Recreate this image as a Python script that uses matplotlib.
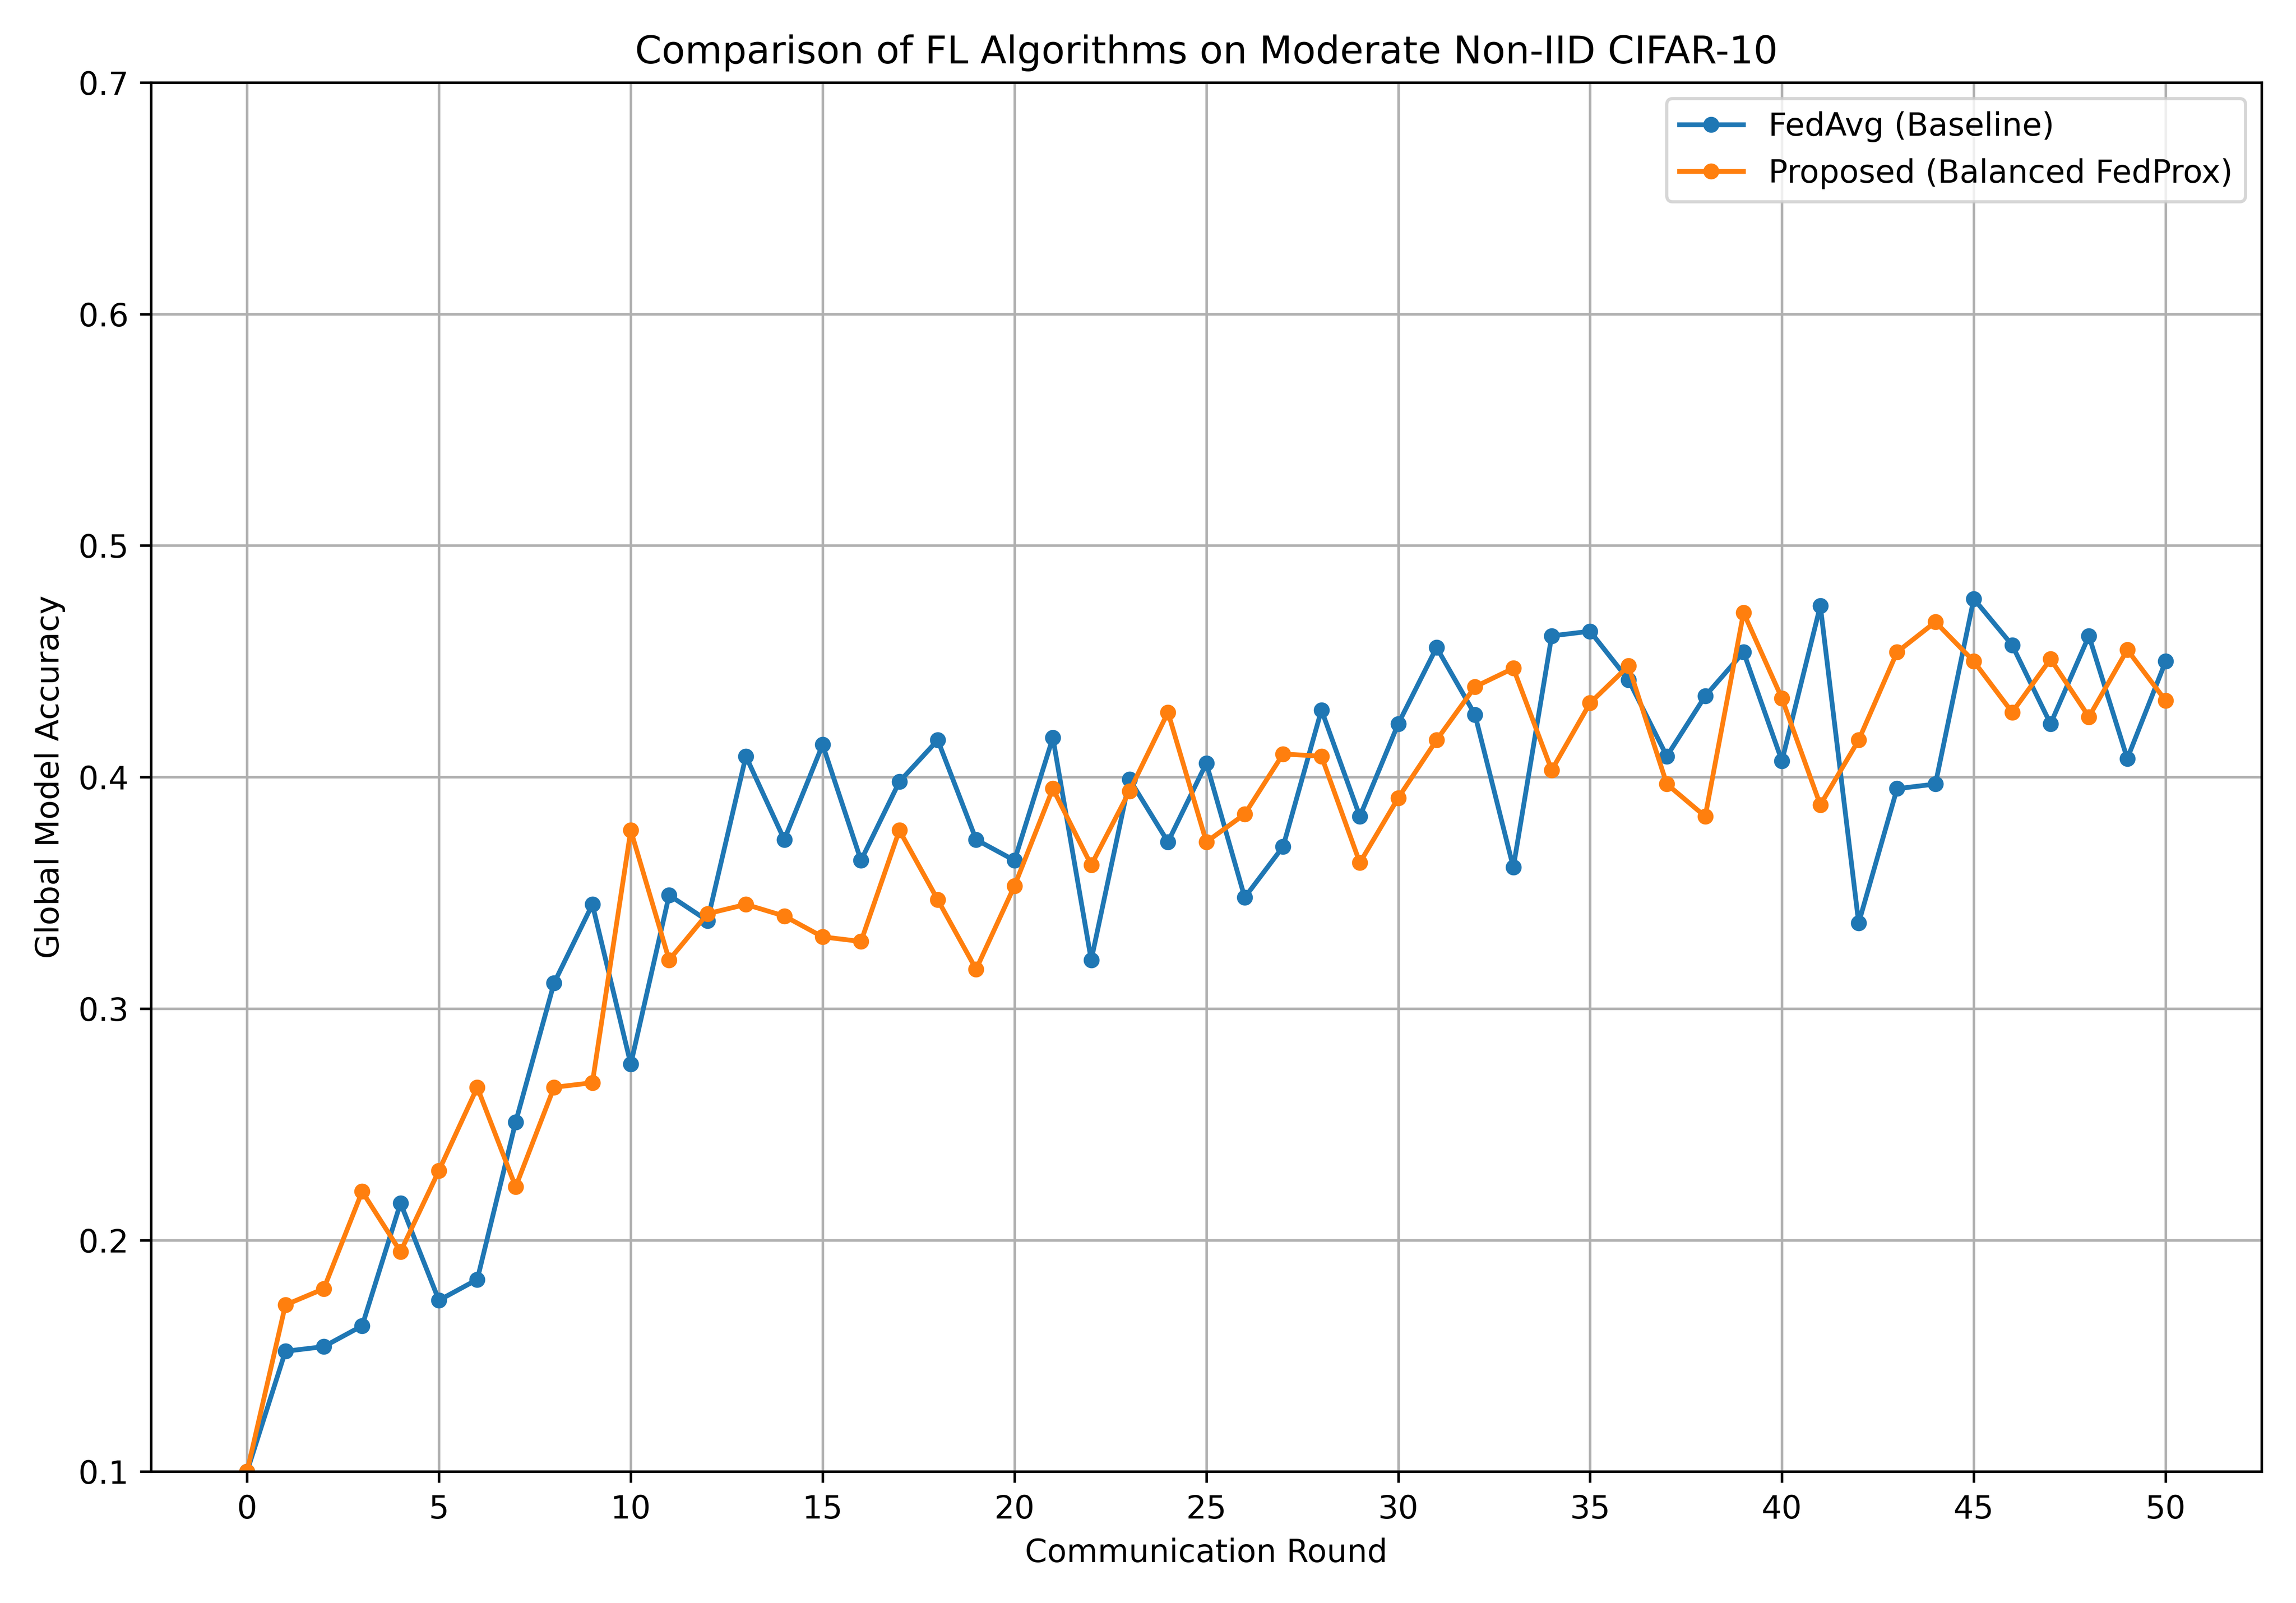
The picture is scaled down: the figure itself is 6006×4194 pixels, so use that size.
import matplotlib
matplotlib.use("Agg")
import matplotlib.pyplot as plt

rounds = list(range(51))
fedavg = [0.100,0.152,0.154,0.163,0.216,0.174,0.183,0.251,0.311,0.345,0.276,0.349,0.338,0.409,0.373,0.414,0.364,0.398,0.416,0.373,0.364,0.417,0.321,0.399,0.372,0.406,0.348,0.370,0.429,0.383,0.423,0.456,0.427,0.361,0.461,0.463,0.442,0.409,0.435,0.454,0.407,0.474,0.337,0.395,0.397,0.477,0.457,0.423,0.461,0.408,0.450]
proposed = [0.100,0.172,0.179,0.221,0.195,0.230,0.266,0.223,0.266,0.268,0.377,0.321,0.341,0.345,0.340,0.331,0.329,0.377,0.347,0.317,0.353,0.395,0.362,0.394,0.428,0.372,0.384,0.410,0.409,0.363,0.391,0.416,0.439,0.447,0.403,0.432,0.448,0.397,0.383,0.471,0.434,0.388,0.416,0.454,0.467,0.450,0.428,0.451,0.426,0.455,0.433]

fig, ax = plt.subplots(figsize=(10.01, 6.99), dpi=600)
ax.plot(rounds, fedavg, marker='o', markersize=4, label='FedAvg (Baseline)')
ax.plot(rounds, proposed, marker='o', markersize=4, label='Proposed (Balanced FedProx)')
ax.set_ylim(0.1, 0.7)
ax.set_xticks(range(0, 51, 5))
ax.set_xlabel('Communication Round')
ax.set_ylabel('Global Model Accuracy')
ax.set_title('Comparison of FL Algorithms on Moderate Non-IID CIFAR-10')
ax.grid(True)
ax.legend(loc='upper right')
fig.tight_layout()
fig.savefig('out.png', dpi=600)
